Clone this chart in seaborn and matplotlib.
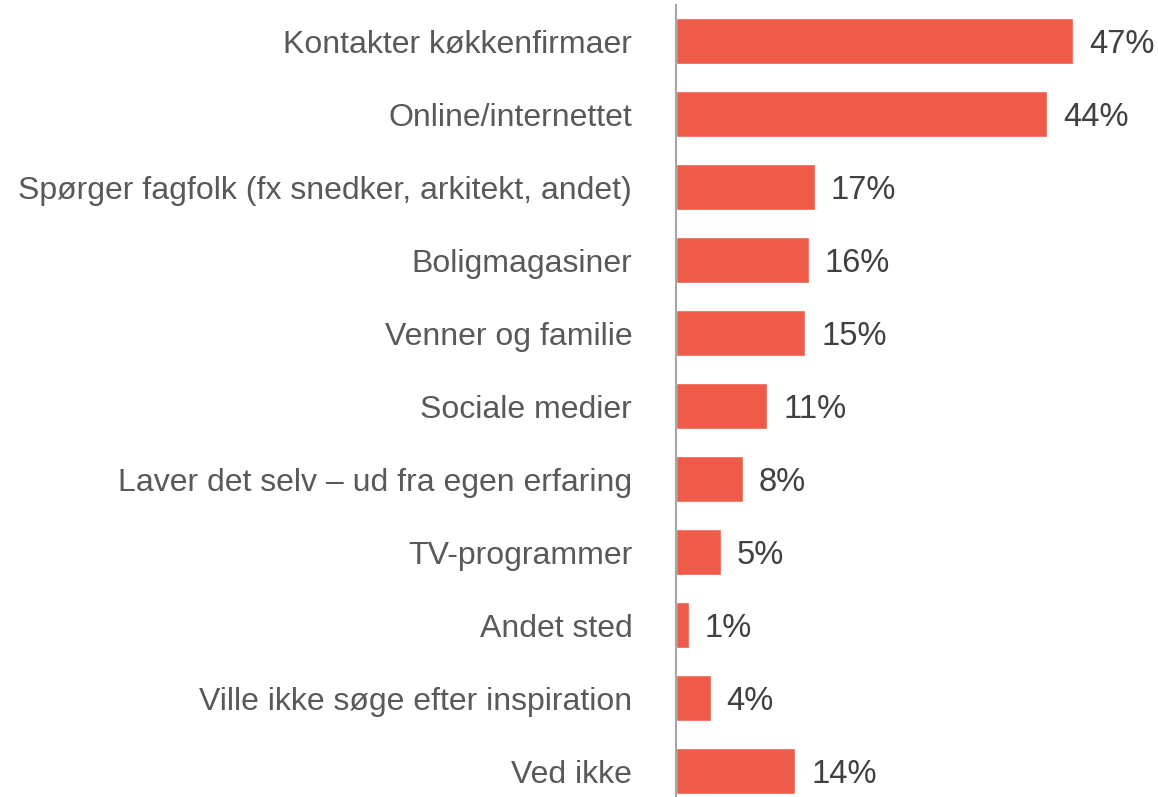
import matplotlib
matplotlib.use("Agg")
import matplotlib.pyplot as plt
import seaborn as sns
import pandas as pd

# kilder til inspiration
categories = [
    "Kontakter køkkenfirmaer",
    "Online/internettet",
    "Spørger fagfolk (fx snedker, arkitekt, andet)",
    "Boligmagasiner",
    "Venner og familie",
    "Sociale medier",
    "Laver det selv – ud fra egen erfaring",
    "TV-programmer",
    "Andet sted",
    "Ville ikke søge efter inspiration",
    "Ved ikke",
]
values = [47.0, 43.9, 16.4, 15.7, 15.3, 10.8, 7.9, 5.3, 1.5, 4.1, 14.1]
value_labels = ["47%", "44%", "17%", "16%", "15%", "11%", "8%", "5%", "1%", "4%", "14%"]

df = pd.DataFrame({"kategori": categories, "andel": values})

sns.set_style("white")
plt.rcParams["font.family"] = ["Liberation Sans", "DejaVu Sans"]

fig = plt.figure(figsize=(11.58, 7.97), dpi=100)
ax = fig.add_axes([676 / 1158, 1 - 807.5 / 797, 473 / 1158, 803 / 797])

sns.barplot(data=df, x="andel", y="kategori", orient="h", color="#EE5B49",
            width=0.63, saturation=1, ax=ax)

texts = ax.bar_label(ax.containers[0], labels=value_labels,
                     padding=11.5, fontsize=23.5, color="#404040")
for t in texts:
    t.xyann = (11.5, -2.2)

ax.set_xlim(0, 56)
ax.set_xlabel("")
ax.set_ylabel("")
ax.set_xticks([])
ax.tick_params(axis="y", length=0, pad=31.5, labelsize=23, labelcolor="#595959")
for s in ["top", "right", "bottom"]:
    ax.spines[s].set_visible(False)
ax.spines["left"].set_color("#A6A6A6")
ax.spines["left"].set_linewidth(1.5)

fig.savefig("out.png", dpi=100)
